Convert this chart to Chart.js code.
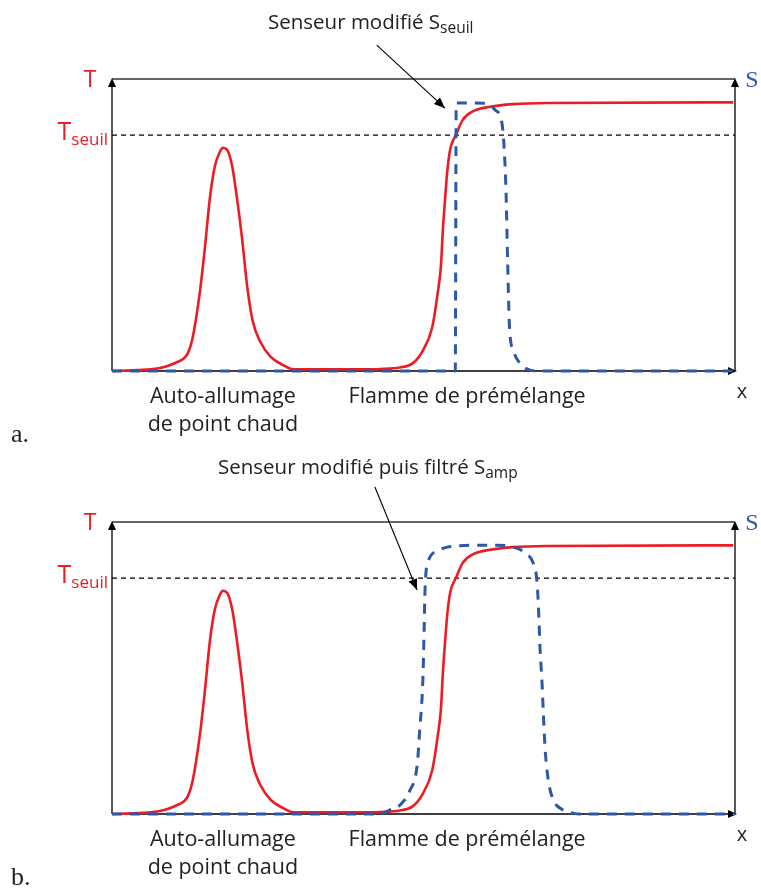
<!DOCTYPE html>
<html>
<head>
<meta charset="utf-8">
<script src="https://cdn.jsdelivr.net/npm/chart.js@4.4.1/dist/chart.umd.min.js"></script>
<style>
    html, body { margin: 0; padding: 0; background: #fff; }
    #wrap { position: relative; width: 761px; height: 891px; }
    canvas { position: absolute; left: 0; }
</style>
</head>
<body>
<div id="wrap">
    <canvas id="panelA" width="761" height="445" style="top:0"></canvas>
    <canvas id="panelB" width="761" height="446" style="top:445px"></canvas>
</div>
<script>
// x runs 0..100 along the axis, y is normalised so the top line is 1

// temperature T (same profile in both panels)
const tempX = [0, 4.0, 7.7, 10.4, 12.2, 13.0, 14.1, 14.9, 15.7, 16.5, 17.3, 17.8, 18.5, 19.3, 20.1, 20.9, 21.7, 22.6, 23.8, 25.4, 27.5, 29.1,
    40.0, 43.0, 46.2, 48.3, 49.9, 51.4, 52.3, 52.8, 53.1, 53.5, 53.8, 54.3, 55.2, 56.3, 58.0, 60.7, 64.4, 69.8, 99.7];
const tempY = [0.0, 0.003, 0.01, 0.03, 0.062, 0.12, 0.27, 0.42, 0.59, 0.70, 0.75, 0.764, 0.757, 0.70, 0.586, 0.45, 0.29, 0.17, 0.10, 0.05, 0.02, 0.006,
    0.006, 0.007, 0.012, 0.027, 0.07, 0.15, 0.27, 0.36, 0.48, 0.60, 0.68, 0.76, 0.808, 0.86, 0.89, 0.905, 0.914, 0.918, 0.92];

// panel a: modified sensor S_seuil
const seuilX = [0, 55.1, 55.25, 60.1, 61.5, 62.55, 62.9, 63.25, 63.5, 63.8, 64.4, 65.5, 67.1, 68.5, 100];
const seuilY = [0, 0, 0.918, 0.917, 0.894, 0.854, 0.78, 0.61, 0.38, 0.152, 0.072, 0.026, 0.003, 0, 0];

// panel b: modified then filtered sensor S_amp
const ampX = [0, 43.0, 44.6, 46.2, 47.8, 49.0, 49.4, 49.9, 50.1, 50.25, 50.7, 52.2, 53.8, 58.0, 61.8, 64.4, 66.6, 67.6, 68.2, 68.45,
    68.7, 69.0, 69.25, 69.5, 70.0, 70.8, 72.4, 74.0, 75.1, 100];
const ampY = [0, 0, 0.014, 0.03, 0.08, 0.17, 0.29, 0.46, 0.63, 0.77, 0.86, 0.90, 0.914, 0.92, 0.92, 0.914, 0.89, 0.86, 0.80, 0.71,
    0.57, 0.46, 0.34, 0.23, 0.12, 0.05, 0.014, 0.003, 0, 0];

// threshold level T_seuil
const tSeuil = 0.808;

const RED = '#ED1C24';
const BLUE = '#2D58A8';
const SANS = "'Open Sans', sans-serif";
const SERIF = "'Liberation Serif', serif";

function toPoints(xs, ys) {
    return xs.map((x, i) => ({ x: x, y: ys[i] }));
}

function arrowHead(ctx, x, y, angle, len, half) {
    ctx.save();
    ctx.translate(x, y);
    ctx.rotate(angle);
    ctx.beginPath();
    ctx.moveTo(0, 0);
    ctx.lineTo(-len, -half);
    ctx.lineTo(-len, half);
    ctx.closePath();
    ctx.fill();
    ctx.restore();
}

// text with an optional subscript, anchored at x, baseline y
function subText(ctx, x, y, main, sub, size, subSize, color, align) {
    ctx.save();
    ctx.fillStyle = color;
    ctx.textBaseline = 'alphabetic';
    ctx.font = `${size}px ${SANS}`;
    const w1 = ctx.measureText(main).width;
    ctx.font = `${subSize}px ${SANS}`;
    const w2 = sub ? ctx.measureText(sub).width : 0;
    let x0 = x;
    if (align === 'right') x0 = x - w1 - w2;
    ctx.textAlign = 'left';
    ctx.font = `${size}px ${SANS}`;
    ctx.fillText(main, x0, y);
    if (sub) {
        ctx.font = `${subSize}px ${SANS}`;
        ctx.fillText(sub, x0 + w1, y + size * 0.2);
    }
    ctx.restore();
}

const axesPlugin = {
    id: 'axesPlugin',
    beforeDatasetsDraw(chart) {
        const { ctx, chartArea: a } = chart;
        ctx.save();
        ctx.fillStyle = '#000';
        // top frame line
        ctx.strokeStyle = '#333';
        ctx.lineWidth = 1.5;
        ctx.beginPath();
        ctx.moveTo(a.left, a.top);
        ctx.lineTo(a.right, a.top);
        ctx.stroke();
        // left (T) and right (S) axes, bottom (x) axis
        ctx.strokeStyle = '#000';
        ctx.lineWidth = 1.3;
        ctx.beginPath();
        ctx.moveTo(a.left, a.bottom);
        ctx.lineTo(a.left, a.top + 4);
        ctx.moveTo(a.right, a.bottom);
        ctx.lineTo(a.right, a.top + 4);
        ctx.moveTo(a.left, a.bottom);
        ctx.lineTo(a.right - 4, a.bottom);
        ctx.stroke();
        arrowHead(ctx, a.left, a.top - 1, -Math.PI / 2, 9, 4);
        arrowHead(ctx, a.right, a.top - 1, -Math.PI / 2, 9, 4);
        arrowHead(ctx, a.right + 2, a.bottom, 0, 9, 4);
        ctx.restore();
    },
    afterDraw(chart, args, opts) {
        const { ctx, chartArea: a, scales } = chart;
        const xs = scales.x, ys = scales.y;
        ctx.save();
        // axis names
        ctx.textAlign = 'center';
        ctx.textBaseline = 'alphabetic';
        ctx.fillStyle = RED;
        ctx.font = `23px ${SANS}`;
        ctx.fillText('T', a.left - 22, a.top + 8);
        ctx.fillStyle = BLUE;
        ctx.font = `24px ${SERIF}`;
        ctx.fillText('S', a.right + 17, a.top + 8);
        ctx.fillStyle = '#222';
        ctx.font = `20px ${SANS}`;
        ctx.fillText('x', a.right + 7, a.bottom + 27);
        // threshold label
        subText(ctx, a.left - 4, ys.getPixelForValue(tSeuil) + 5, 'T', 'seuil', 25, 17, RED, 'right');
        // region labels under the axis
        ctx.fillStyle = '#222';
        ctx.textAlign = 'center';
        ctx.font = `21.5px ${SANS}`;
        ctx.fillText('Auto-allumage', xs.getPixelForValue(17.8), a.bottom + 32);
        ctx.fillText('de point chaud', xs.getPixelForValue(17.8), a.bottom + 60);
        ctx.fillText('Flamme de prémélange', xs.getPixelForValue(57.0), a.bottom + 32);
        // panel letter
        ctx.textAlign = 'left';
        ctx.font = `26px ${SERIF}`;
        ctx.fillText(opts.letter, 11, a.bottom + 71);
        // sensor caption and its arrow
        subText(ctx, opts.captionX, opts.captionY, opts.caption, opts.captionSub, 20.5, 15.5, '#222', 'left');
        const x1 = xs.getPixelForValue(opts.arrowFrom[0]), y1 = ys.getPixelForValue(opts.arrowFrom[1]);
        const x2 = xs.getPixelForValue(opts.arrowTo[0]), y2 = ys.getPixelForValue(opts.arrowTo[1]);
        ctx.strokeStyle = '#000';
        ctx.fillStyle = '#000';
        ctx.lineWidth = 1.1;
        ctx.beginPath();
        ctx.moveTo(x1, y1);
        ctx.lineTo(x2, y2);
        ctx.stroke();
        arrowHead(ctx, x2, y2, Math.atan2(y2 - y1, x2 - x1), 11, 4.5);
        ctx.restore();
    }
};

function makePanel(canvasId, sensorX, sensorY, padding, notes) {
    const ctx = document.getElementById(canvasId).getContext('2d');
    return new Chart(ctx, {
        type: 'scatter',
        data: {
            datasets: [
                {
                    label: 'S',
                    data: toPoints(sensorX, sensorY),
                    showLine: true,
                    borderColor: BLUE,
                    borderWidth: 3,
                    borderDash: [10, 8],
                    cubicInterpolationMode: 'monotone',
                    pointRadius: 0,
                    clip: 8
                },
                {
                    label: 'T',
                    data: toPoints(tempX, tempY),
                    showLine: true,
                    borderColor: RED,
                    borderWidth: 2.6,
                    cubicInterpolationMode: 'monotone',
                    pointRadius: 0,
                    clip: 8
                },
                {
                    label: 'T seuil',
                    data: [{ x: 0, y: tSeuil }, { x: 100, y: tSeuil }],
                    showLine: true,
                    borderColor: '#000',
                    borderWidth: 1.2,
                    borderDash: [5, 4],
                    pointRadius: 0
                }
            ]
        },
        options: {
            responsive: false,
            animation: false,
            layout: { padding: padding },
            scales: {
                x: { type: 'linear', min: 0, max: 100, display: false },
                y: { type: 'linear', min: 0, max: 1, display: false }
            },
            plugins: {
                legend: { display: false },
                tooltip: { enabled: false },
                axesPlugin: notes
            }
        },
        plugins: [axesPlugin]
    });
}

makePanel('panelA', seuilX, seuilY, { left: 112, right: 26, top: 79, bottom: 74 }, {
    letter: 'a.',
    caption: 'Senseur modifié S',
    captionSub: 'seuil',
    captionX: 268,
    captionY: 29,
    arrowFrom: [42.5, 1.116],
    arrowTo: [53.45, 0.90]
});

makePanel('panelB', ampX, ampY, { left: 112, right: 26, top: 77, bottom: 77 }, {
    letter: 'b.',
    caption: 'Senseur modifié puis filtré S',
    captionSub: 'amp',
    captionX: 218,
    captionY: 29,
    arrowFrom: [42.2, 1.12],
    arrowTo: [48.96, 0.767]
});
</script>
</body>
</html>
